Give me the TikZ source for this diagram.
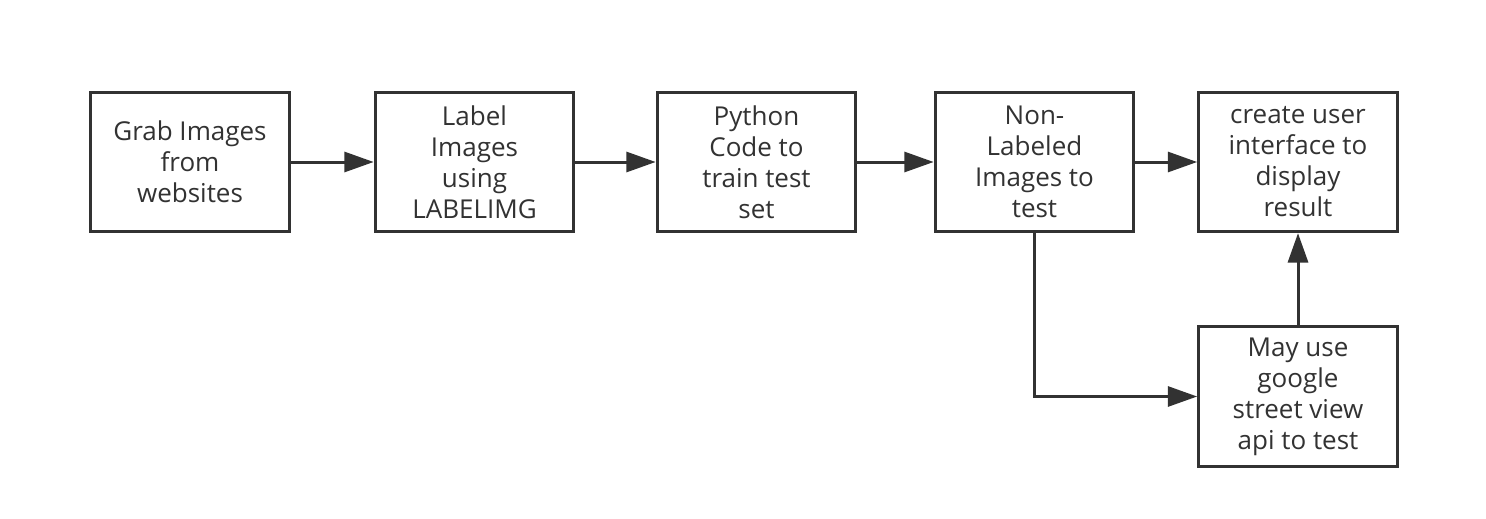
\documentclass[tikz,border=0pt]{standalone}
\usepackage{fontspec}
\setmainfont{Open Sans}
\usetikzlibrary{arrows.meta}

\tikzset{
    stepbox/.style={draw={rgb, 255:red, 50; green, 50; blue, 50}, line width=2.25pt, minimum width=149pt, minimum height=104.5pt, align=center, inner sep=0.75pt, text={rgb, 255:red, 50; green, 50; blue, 50}, font=\fontsize{19.5}{23.25}\selectfont},
    flow/.style={draw={rgb, 255:red, 50; green, 50; blue, 50}, line width=2.25pt, -{Triangle[length=22pt, width=15pt]}}
}

\begin{document}
\begin{tikzpicture}[x=0.75pt,y=0.75pt,yscale=-1,xscale=1]
    %set diagram left start at 0, and has height of 518
    \path [use as bounding box, fill=white] (0,0) rectangle (1486,518);

    % Boxes
    \node [stepbox] (grab) at (190,162) {Grab Images\\from\\websites};
    \node [stepbox] (label) at (474.5,162) {Label\\Images\\using\\LABELIMG};
    \node [stepbox] (python) at (756.5,162) {Python\\Code to\\train test\\set};
    \node [stepbox] (nonlab) at (1034.5,162) {Non-\\Labeled\\Images to\\test};
    \node [stepbox] (ui) at (1298,162) {create user\\interface to\\display\\result};
    \node [stepbox] (street) at (1298,396.5) {May use\\google\\street view\\api to test};

    % Arrows
    \draw [flow] (grab) -- (label);
    \draw [flow] (label) -- (python);
    \draw [flow] (python) -- (nonlab);
    \draw [flow] (nonlab) -- (ui);
    \draw [flow] (nonlab.south) |- (street.west);
    \draw [flow] (street) -- (ui);
\end{tikzpicture}
\end{document}
